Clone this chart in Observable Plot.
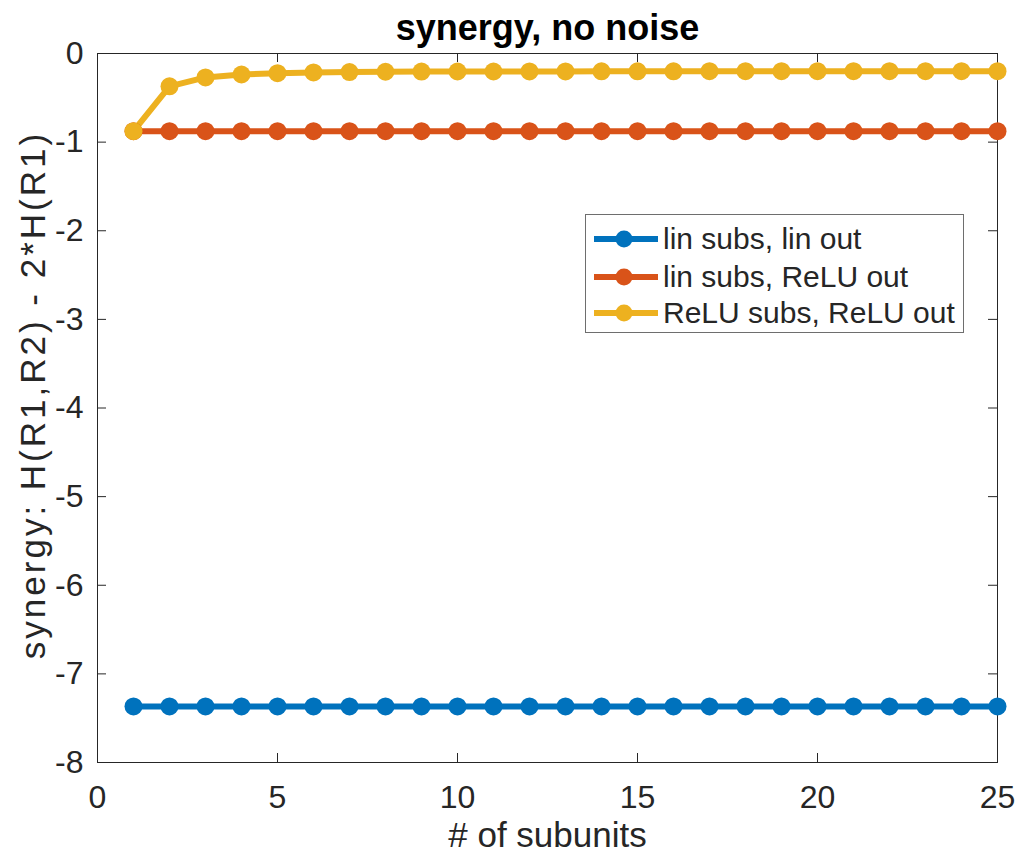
<!DOCTYPE html>
<html>
<head>
<meta charset="utf-8">
<script src="https://cdn.jsdelivr.net/npm/d3@7"></script>
<script src="https://cdn.jsdelivr.net/npm/@observablehq/plot@0.6"></script>
<style>
  body { margin: 0; background: #fff; font-family: "Liberation Sans", Arial, Helvetica, sans-serif; }
  #wrap { position: relative; width: 1017px; height: 853px; }
  #legend { position: absolute; left: 585px; top: 214px; width: 379px; height: 119px;
            border: 1px solid #6e6e6e; background: #fff; box-sizing: border-box; }
  .row { position: absolute; left: 0; height: 36px; display: flex; align-items: center; }
  .row span { font-size: 30px; color: #262626; white-space: nowrap; margin-left: 4px; }
</style>
</head>
<body>
<div id="wrap"><div id="chart"></div><div id="legend"></div></div>
<script>
const subunits = [1,2,3,4,5,6,7,8,9,10,11,12,13,14,15,16,17,18,19,20,21,22,23,24,25];
const linSubsLinOut = [-7.367,-7.367,-7.367,-7.367,-7.367,-7.367,-7.367,-7.367,-7.367,-7.367,-7.367,-7.367,-7.367,-7.367,-7.367,-7.367,-7.367,-7.367,-7.367,-7.367,-7.367,-7.367,-7.367,-7.367,-7.367];
const linSubsReluOut = [-0.877,-0.877,-0.877,-0.877,-0.877,-0.877,-0.877,-0.877,-0.877,-0.877,-0.877,-0.877,-0.877,-0.877,-0.877,-0.877,-0.877,-0.877,-0.877,-0.877,-0.877,-0.877,-0.877,-0.877,-0.877];
const reluSubsReluOut = [-0.877,-0.370,-0.270,-0.237,-0.222,-0.214,-0.209,-0.206,-0.204,-0.203,-0.203,-0.202,-0.202,-0.201,-0.201,-0.201,-0.200,-0.200,-0.200,-0.200,-0.200,-0.200,-0.200,-0.200,-0.200];
const seriesNames = ["lin subs, lin out", "lin subs, ReLU out", "ReLU subs, ReLU out"];
const seriesColors = ["#0072BD", "#D95319", "#EDB120"];
const xTicks = [0, 5, 10, 15, 20, 25];
const yTicks = [-8, -7, -6, -5, -4, -3, -2, -1, 0];
const titleText = "synergy, no noise";
const xLabel = "# of subunits";
const yLabel = "synergy: H(R1,R2) - 2*H(R1)";

const seriesValues = [linSubsLinOut, linSubsReluOut, reluSubsReluOut];
const rows = seriesNames.flatMap((name, i) =>
  subunits.map((x, j) => ({series: name, x, y: seriesValues[i][j]})));

const W = 1017, H = 853, mL = 97, mR = 20, mT = 53, mB = 91;
const frameW = W - mL - mR, frameH = H - mT - mB, tickLen = 9;
const ink = "#262626";

const chart = Plot.plot({
  width: W, height: H,
  marginLeft: mL, marginRight: mR, marginTop: mT, marginBottom: mB,
  style: {fontFamily: '"Liberation Sans", Arial, Helvetica, sans-serif', color: ink, background: "#fff"},
  x: {domain: [0, 25]},
  y: {domain: [-8, 0]},
  color: {domain: seriesNames, range: seriesColors},
  marks: [
    Plot.frame({stroke: ink, strokeWidth: 1}),
    Plot.tickX(xTicks, {x: d => d, insetTop: frameH - tickLen, stroke: ink}),
    Plot.tickX(xTicks, {x: d => d, insetBottom: frameH - tickLen, stroke: ink}),
    Plot.tickY(yTicks, {y: d => d, insetRight: frameW - tickLen, stroke: ink}),
    Plot.tickY(yTicks, {y: d => d, insetLeft: frameW - tickLen, stroke: ink}),
    Plot.axisX(xTicks, {tickSize: 0, tickPadding: 23, fontSize: 32, fill: ink, label: null, tickFormat: d => String(d)}),
    Plot.axisY(yTicks, {tickSize: 0, tickPadding: 14, fontSize: 32, fill: ink, label: null, tickFormat: d => String(d)}),
    Plot.line(rows, {x: "x", y: "y", z: "series", stroke: "series", strokeWidth: 6}),
    Plot.dot(rows, {x: "x", y: "y", fill: "series", r: 9}),
    Plot.text([titleText], {text: d => d, frameAnchor: "top", lineAnchor: "middle", textAnchor: "middle", dy: -25, fontSize: 36, fontWeight: "bold", fill: "#000"}),
    Plot.text([xLabel], {text: d => d, frameAnchor: "bottom", lineAnchor: "middle", textAnchor: "middle", dy: 73, fontSize: 35, fill: ink}),
    Plot.text([yLabel], {text: d => d, frameAnchor: "left", lineAnchor: "middle", textAnchor: "middle", rotate: -90, dx: -64, dy: -13, fontSize: 35, fill: ink, className: "ylabel"})
  ]
});
document.getElementById("chart").appendChild(chart);
chart.querySelectorAll("text").forEach(t => {
  if (t.textContent === yLabel) t.style.letterSpacing = "3px";
});

// legend
const legend = document.getElementById("legend");
const rowCenters = [24, 62, 98];
seriesNames.forEach((name, i) => {
  const row = document.createElement("div");
  row.className = "row";
  row.style.top = (rowCenters[i] - 18) + "px";
  row.innerHTML = `<svg width="73" height="36" style="display:block">
    <line x1="8" y1="18" x2="72" y2="18" stroke="${seriesColors[i]}" stroke-width="6"/>
    <circle cx="38" cy="18" r="8.5" fill="${seriesColors[i]}"/></svg><span>${name}</span>`;
  legend.appendChild(row);
});
</script>
</body>
</html>
